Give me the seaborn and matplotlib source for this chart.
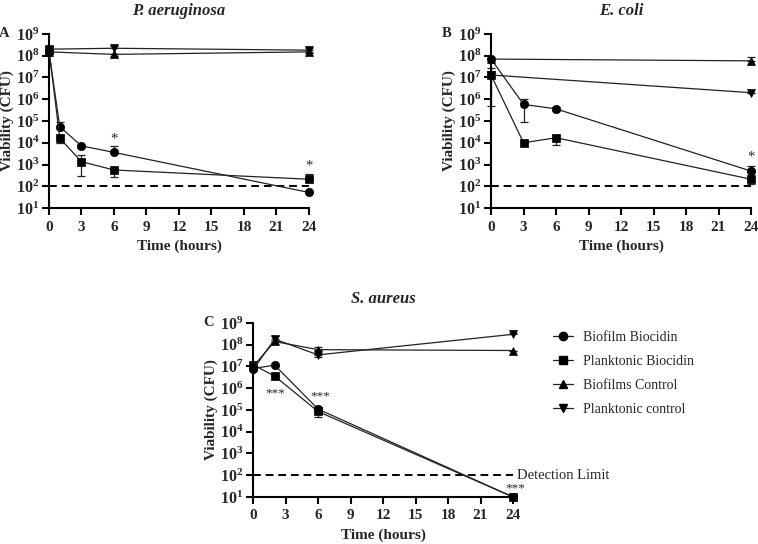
import numpy as np
import pandas as pd
import seaborn as sns
import matplotlib.pyplot as plt
from matplotlib.lines import Line2D
from matplotlib.ticker import NullLocator

sns.set_theme(style="ticks")
plt.rcParams['font.family'] = ['Liberation Serif', 'DejaVu Serif']
plt.rcParams['mathtext.default'] = 'regular'

# ---- data (CFU) ----
series_names = ['Biofilm Biocidin', 'Planktonic Biocidin', 'Biofilms Control', 'Planktonic control']
series_markers = ['o', 's', '^', 'v']
detection_limit = 100

# A: P. aeruginosa
a_t_bio = [0, 1, 3, 6, 24]
a_t_ctl = [0, 6, 24]
a_bb = [1.5e8, 5.4e4, 7.2e3, 3.6e3, 52]
a_bb_lo = [1.5e8, 5.4e4, 6.5e3, 3.6e3, 52]
a_bb_hi = [1.5e8, 9.0e4, 8.0e3, 6.8e3, 52]
a_pb = [1.9e8, 1.6e4, 1.35e3, 560, 210]
a_pb_lo = [1.9e8, 1.0e4, 290, 270, 210]
a_pb_hi = [1.9e8, 1.6e4, 2.6e3, 560, 350]
a_bc = [1.5e8, 1.15e8, 1.5e8]
a_bc_lo = [1.5e8, 1.0e8, 1.4e8]
a_bc_hi = [1.5e8, 1.15e8, 1.5e8]
a_pc = [2.0e8, 2.2e8, 1.8e8]
a_pc_lo = [2.0e8, 2.2e8, 1.8e8]
a_pc_hi = [2.0e8, 2.7e8, 2.2e8]

# B: E. coli
b_t_bio = [0, 3, 6, 24]
b_t_ctl = [0, 24]
b_bb = [7.0e7, 5.8e5, 3.6e5, 500]
b_bb_lo = [7.0e7, 9.0e4, 3.0e5, 500]
b_bb_hi = [7.0e7, 1.0e6, 4.5e5, 900]
b_pb = [1.3e7, 1.0e4, 1.7e4, 210]
b_pb_lo = [5.0e5, 1.0e4, 8.0e3, 130]
b_pb_hi = [2.6e7, 1.0e4, 2.3e4, 210]
b_bc = [7.0e7, 5.8e7]
b_bc_lo = [7.0e7, 5.8e7]
b_bc_hi = [7.0e7, 8.5e7]
b_pc = [1.3e7, 2.0e6]
b_pc_lo = [1.3e7, 2.0e6]
b_pc_hi = [1.3e7, 2.0e6]

# C: S. aureus
c_t = [0, 2, 6, 24]
c_bb = [8.0e6, 1.15e7, 1.1e5, 10]
c_bb_lo = [8.0e6, 1.15e7, 1.1e5, 10]
c_bb_hi = [8.0e6, 1.15e7, 1.4e5, 10]
c_pb = [1.2e7, 3.6e6, 8.5e4, 10]
c_pb_lo = [1.2e7, 3.6e6, 5.0e4, 10]
c_pb_hi = [1.2e7, 3.6e6, 8.5e4, 10]
c_bc = [1.0e7, 1.4e8, 5.9e7, 5.4e7]
c_bc_lo = [1.0e7, 1.4e8, 5.9e7, 5.4e7]
c_bc_hi = [1.0e7, 1.4e8, 7.5e7, 5.4e7]
c_pc = [7.0e6, 1.8e8, 3.4e7, 3.0e8]
c_pc_lo = [7.0e6, 1.8e8, 2.8e7, 3.0e8]
c_pc_hi = [7.0e6, 2.4e8, 3.4e7, 3.6e8]

x_ticks = [0, 3, 6, 9, 12, 15, 18, 21, 24]
y_ticks = [1e1, 1e2, 1e3, 1e4, 1e5, 1e6, 1e7, 1e8, 1e9]
y_tick_labels = ['10$^{%d}$' % k for k in range(1, 10)]


def draw_series(ax, t, y, lo, hi, marker):
    df = pd.DataFrame({'t': t, 'y': y})
    sns.lineplot(data=df, x='t', y='y', ax=ax, color='#222222', linewidth=0.9,
                 marker=marker, markersize=6, markerfacecolor='black',
                 markeredgecolor='black', markeredgewidth=0.5, clip_on=False,
                 zorder=3)
    y = np.array(y)
    err = [y - np.array(lo), np.array(hi) - y]
    ax.errorbar(t, y, yerr=err, fmt='none', ecolor='#222222', elinewidth=0.9,
                capsize=3, capthick=0.9, clip_on=False, zorder=2)


def style_axes(ax, title, letter):
    ax.set_yscale('log')
    ax.set_xlim(0, 24)
    ax.set_ylim(1e1, 1e9)
    ax.set_xticks(x_ticks)
    ax.set_xticklabels([str(v) for v in x_ticks], fontweight='bold', fontsize=11)
    ax.set_yticks(y_ticks)
    ax.set_yticklabels(y_tick_labels, fontweight='bold', fontsize=11.5)
    ax.yaxis.set_minor_locator(NullLocator())
    ax.hlines(detection_limit, 0, 24, colors='black', linestyles=(0, (4, 2.5)),
              linewidth=1.4, zorder=1)
    sns.despine(ax=ax)
    for s in ['left', 'bottom']:
        ax.spines[s].set_linewidth(1.5)
        ax.spines[s].set_color('black')
    ax.tick_params(width=1.5, length=5, color='black', pad=2)
    ax.tick_params(axis='x', pad=4)
    ax.set_xlabel('Time (hours)', fontweight='bold', fontsize=11)
    ax.set_ylabel('Viability (CFU)', fontweight='bold', fontsize=11, labelpad=1)
    ax.set_title(title, fontweight='bold', fontstyle='italic', fontsize=12, pad=14)
    ax.text(-0.152, 1.0, letter, transform=ax.transAxes, fontweight='bold',
            fontsize=10.5, ha='right', va='center')


fig = plt.figure(figsize=(7.58, 5.44), dpi=100)
ax_a = fig.add_axes([0.0646, 0.6176, 0.343, 0.32])
ax_b = fig.add_axes([0.6478, 0.6176, 0.343, 0.32])
ax_c = fig.add_axes([0.3338, 0.0864, 0.343, 0.32])

for t, y, lo, hi, m in [(a_t_bio, a_bb, a_bb_lo, a_bb_hi, 'o'),
                        (a_t_bio, a_pb, a_pb_lo, a_pb_hi, 's'),
                        (a_t_ctl, a_bc, a_bc_lo, a_bc_hi, '^'),
                        (a_t_ctl, a_pc, a_pc_lo, a_pc_hi, 'v')]:
    draw_series(ax_a, t, y, lo, hi, m)
style_axes(ax_a, 'P. aeruginosa', 'A')
ax_a.text(6, 9.8e3, '*', ha='center', fontsize=10.5)
ax_a.text(24, 560, '*', ha='center', fontsize=10.5)

for t, y, lo, hi, m in [(b_t_bio, b_bb, b_bb_lo, b_bb_hi, 'o'),
                        (b_t_bio, b_pb, b_pb_lo, b_pb_hi, 's'),
                        (b_t_ctl, b_bc, b_bc_lo, b_bc_hi, '^'),
                        (b_t_ctl, b_pc, b_pc_lo, b_pc_hi, 'v')]:
    draw_series(ax_b, t, y, lo, hi, m)
style_axes(ax_b, 'E. coli', 'B')
ax_b.text(24, 1.6e3, '*', ha='center', fontsize=10.5)

for y, lo, hi, m in [(c_bb, c_bb_lo, c_bb_hi, 'o'),
                     (c_pb, c_pb_lo, c_pb_hi, 's'),
                     (c_bc, c_bc_lo, c_bc_hi, '^'),
                     (c_pc, c_pc_lo, c_pc_hi, 'v')]:
    draw_series(ax_c, c_t, y, lo, hi, m)
style_axes(ax_c, 'S. aureus', 'C')
ax_c.text(2.1, 4.4e5, '***', ha='center', fontsize=9.5)
ax_c.text(6.25, 3.2e5, '***', ha='center', fontsize=9.5)
ax_c.text(24.2, 19, '***', ha='center', fontsize=9.5)
ax_c.text(24.4, detection_limit, 'Detection Limit', ha='left', va='center',
          fontsize=10.5, clip_on=False)

handles = [Line2D([0], [0], color='#222222', linewidth=0.9, marker=m,
                  markersize=6, markerfacecolor='black', markeredgecolor='black')
           for m in series_markers]
fig.legend(handles, series_names, loc='upper left', bbox_to_anchor=(0.7296, 0.3915),
           frameon=False, fontsize=10, handlelength=1.45, handletextpad=0.72,
           labelspacing=0.8, borderpad=0, borderaxespad=0)

fig.savefig('out.png', dpi=100)
